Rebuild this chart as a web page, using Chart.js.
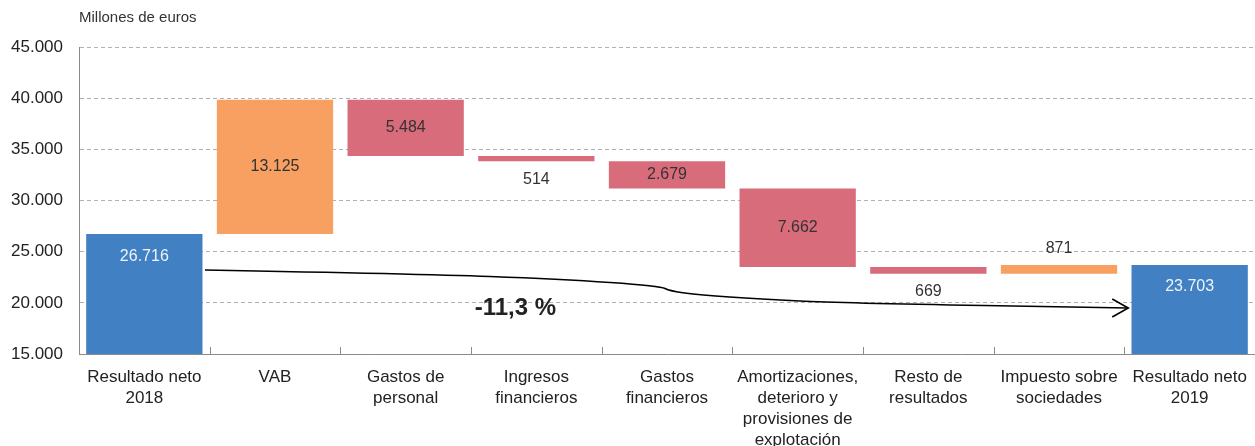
<!DOCTYPE html>
<html>
<head>
<meta charset="utf-8">
<script src="https://cdn.jsdelivr.net/npm/chart.js@4.4.1/dist/chart.umd.min.js"></script>
<style>
  html, body { margin: 0; padding: 0; background: #fff; }
  #wrap { width: 1255px; height: 446px; }
</style>
</head>
<body>
<div id="wrap"><canvas id="c" width="1255" height="446"></canvas></div>
<script>
// ---- data ----
const categories = [
  ["Resultado neto", "2018"],
  ["VAB"],
  ["Gastos de", "personal"],
  ["Ingresos", "financieros"],
  ["Gastos", "financieros"],
  ["Amortizaciones,", "deterioro y", "provisiones de", "explotación"],
  ["Resto de", "resultados"],
  ["Impuesto sobre", "sociedades"],
  ["Resultado neto", "2019"]
];
const changes = [26716, 13125, -5484, -514, -2679, -7662, -669, 871, 23703];
const kinds = ["total", "up", "down", "down", "down", "down", "down", "up", "total"];
const yMin = 15000, yMax = 45000, yStep = 5000;
const unitLabel = "Millones de euros";
const changeLabel = "-11,3 %";

// ---- helpers ----
const fmt = v => String(Math.round(Math.abs(v))).replace(/\B(?=(\d{3})+(?!\d))/g, ".");
const colors = { total: "#4180C2", up: "#F7A062", down: "#D86C7A" };

let running = 0;
const ranges = changes.map((v, i) => {
  if (kinds[i] === "total") { running = v; return [0, v]; }
  const start = running;
  running = running + v;
  return [Math.min(start, running), Math.max(start, running)];
});

const FONT = "'Liberation Sans', Arial, Helvetica, sans-serif";

const decorations = {
  id: "decorations",
  afterDraw(chart) {
    const ctx = chart.ctx;
    const xs = chart.scales.x, ys = chart.scales.y;
    const area = chart.chartArea;
    ctx.save();

    // unit label
    ctx.fillStyle = "#333";
    ctx.font = "15px " + FONT;
    ctx.textAlign = "left";
    ctx.textBaseline = "middle";
    ctx.fillText(unitLabel, area.left, 18);

    // category boundary ticks (pointing up)
    ctx.strokeStyle = "#8a8a8a";
    ctx.lineWidth = 1;
    for (let i = 1; i < categories.length; i++) {
      const x = Math.round(xs.getPixelForValue(i - 0.5)) + 0.5;
      ctx.beginPath();
      ctx.moveTo(x, area.bottom);
      ctx.lineTo(x, area.bottom - 7);
      ctx.stroke();
    }

    // value labels
    const meta = chart.getDatasetMeta(0);
    meta.data.forEach((bar, i) => {
      const top = Math.min(bar.y, bar.base);
      const bottom = Math.min(Math.max(bar.y, bar.base), area.bottom);
      const h = bottom - top;
      let y, color = "#333";
      if (kinds[i] === "total") { y = top + 22; color = "#EEF3FA"; }
      else if (h < 20) { y = kinds[i] === "down" ? bottom + 18 : top - 16; }
      else { y = (top + bottom) / 2; }
      ctx.fillStyle = color;
      ctx.font = "16px " + FONT;
      ctx.textAlign = "center";
      ctx.textBaseline = "middle";
      ctx.fillText(fmt(changes[i]), bar.x, y);
    });

    // change arrow (annotation), positioned in category index / value space
    const path = [
      [0.464, 23208], [2.11, 22818], [3.18, 22329], [3.95, 21645],
      [4.02, 21156], [4.25, 20765], [4.71, 20375], [5.32, 19984], [7.53, 19495]
    ].map(([c, v]) => [xs.getPixelForValue(c), ys.getPixelForValue(v)]);
    ctx.strokeStyle = "#000";
    ctx.lineWidth = 1.6;
    ctx.beginPath();
    ctx.moveTo(path[0][0], path[0][1]);
    for (let i = 1; i < path.length - 1; i++) {
      const mx = (path[i][0] + path[i + 1][0]) / 2;
      const my = (path[i][1] + path[i + 1][1]) / 2;
      ctx.quadraticCurveTo(path[i][0], path[i][1], mx, my);
    }
    const tip = path[path.length - 1];
    ctx.lineTo(tip[0], tip[1]);
    ctx.stroke();
    ctx.beginPath();
    ctx.moveTo(tip[0] - 16, tip[1] - 9);
    ctx.lineTo(tip[0], tip[1]);
    ctx.lineTo(tip[0] - 16, tip[1] + 9);
    ctx.stroke();

    ctx.fillStyle = "#222";
    ctx.font = "bold 24px " + FONT;
    ctx.textAlign = "center";
    ctx.textBaseline = "middle";
    ctx.fillText(changeLabel, xs.getPixelForValue(2.84), ys.getPixelForValue(19450));
    ctx.restore();
  }
};

new Chart(document.getElementById("c"), {
  type: "bar",
  data: {
    labels: categories,
    datasets: [{
      data: ranges,
      backgroundColor: kinds.map(k => colors[k]),
      borderWidth: 0,
      barPercentage: 0.89,
      categoryPercentage: 1.0
    }]
  },
  options: {
    responsive: false,
    animation: false,
    layout: { padding: { top: 47, right: 0, left: 0, bottom: 0 } },
    plugins: { legend: { display: false }, tooltip: { enabled: false } },
    scales: {
      x: {
        grid: { display: false, drawTicks: false },
        border: { color: "#8a8a8a", width: 1 },
        ticks: {
          color: "#222",
          font: { family: FONT, size: 17, lineHeight: 1.24 },
          padding: 13,
          maxRotation: 0,
          autoSkip: false
        },
        afterFit(s) { s.height = 92; s.paddingLeft = 0; s.paddingRight = 0; }
      },
      y: {
        min: yMin, max: yMax,
        grid: { color: "#b0b0b0", drawTicks: false, lineWidth: 1 },
        border: { color: "#8a8a8a", width: 1, dash: [4, 3] },
        ticks: {
          stepSize: yStep,
          color: "#222",
          font: { family: FONT, size: 17 },
          padding: 16,
          callback: v => fmt(v)
        },
        afterFit(s) { s.width = 79; }
      }
    }
  },
  plugins: [decorations]
});
</script>
</body>
</html>
